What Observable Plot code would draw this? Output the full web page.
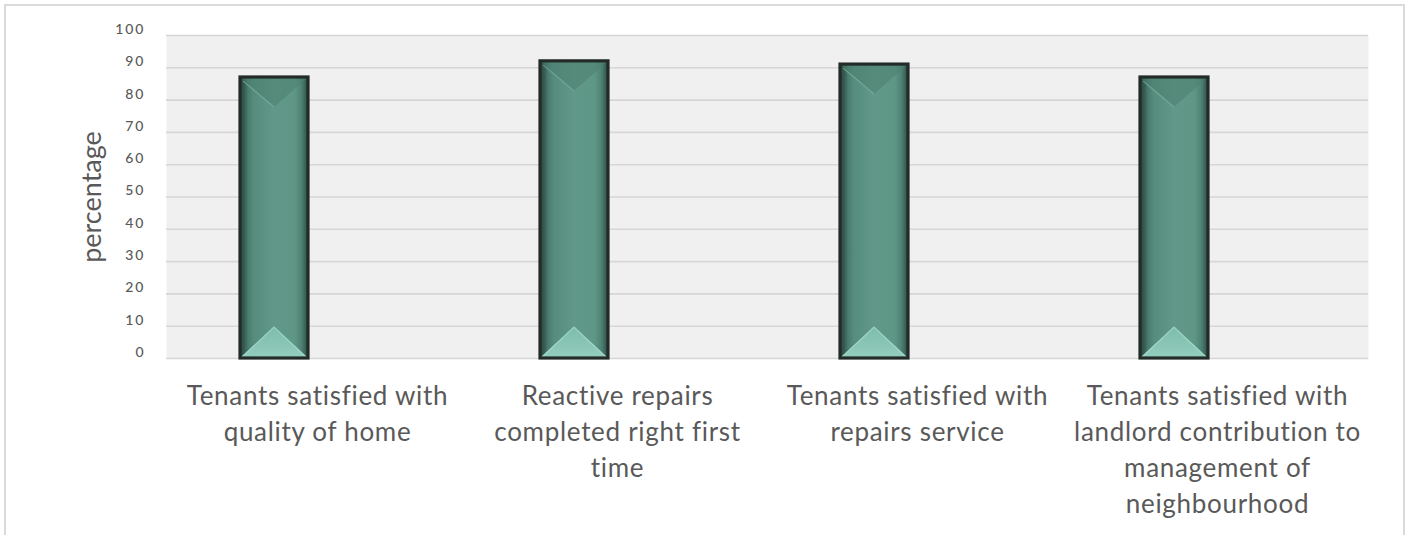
<!DOCTYPE html>
<html>
<head>
<meta charset="utf-8">
<script src="https://cdn.jsdelivr.net/npm/d3@7"></script>
<script src="https://cdn.jsdelivr.net/npm/@observablehq/plot@0.6"></script>
<style>
  html, body { margin: 0; padding: 0; background: #fff; overflow: hidden; }
  #wrap { position: relative; width: 1408px; height: 535px; }
  #border { position: absolute; left: 4px; top: 4px; width: 1397px; height: 600px;
            border: 2px solid #dadada; pointer-events: none; }
  svg { font-family: Lato, "Open Sans", sans-serif; }
  svg g[aria-label="x-axis tick label"] { letter-spacing: 0.7px; }
  svg g[aria-label="y-axis tick label"] { letter-spacing: 2px; }
</style>
</head>
<body>
<div id="wrap"><div id="border"></div></div>
<script>
const categories = [
  "Tenants satisfied with\nquality of home",
  "Reactive repairs\ncompleted right first\ntime",
  "Tenants satisfied with\nrepairs service",
  "Tenants satisfied with\nlandlord contribution to\nmanagement of\nneighbourhood"
];
const values = [87, 92, 91, 87];
const yTicks = [0, 10, 20, 30, 40, 50, 60, 70, 80, 90, 100];
const yLabel = "percentage";

const data = categories.map((c, i) => ({category: c, value: values[i]}));

const chart = Plot.plot({
  width: 1408,
  height: 535,
  marginLeft: 166,
  marginRight: 40,
  marginTop: 35,
  marginBottom: 177,
  style: {background: "transparent", color: "#595959"},
  x: {domain: categories, padding: 0, label: null},
  y: {domain: [0, 100], label: null},
  marks: [
    Plot.frame({fill: "#f0f0f0", stroke: "none"}),
    Plot.gridY(yTicks, {stroke: "#d6d6d6", strokeOpacity: 1, strokeWidth: 1.6}),
    Plot.axisY(yTicks, {tickSize: 0, tickPadding: 21, fontSize: 14, fill: "#595959", dy: -6, label: null, fontWeight: 500}),
    Plot.axisX({tickSize: 0, tickPadding: 21, fontSize: 26, fill: "#595959", lineHeight: 1.38, label: null}),
    Plot.text([yLabel], {frameAnchor: "left", textAnchor: "middle", rotate: -90, dx: -74, fontSize: 27, fill: "#595959"}),
    Plot.barY(data, {x: "category", y: "value", insetLeft: 73, insetRight: 159, fill: "url(#barGrad)"}),
    Plot.barY(data, {x: "category", y: "value", insetLeft: 73, insetRight: 159, fill: "none", stroke: "#222b28", strokeWidth: 3.2})
  ]
});

document.getElementById("wrap").prepend(chart);

const svg = d3.select(chart);
const defs = svg.insert("defs", ":first-child");
const g = defs.append("linearGradient").attr("id", "barGrad").attr("x1", "0").attr("x2", "1").attr("y1", "0").attr("y2", "0");
[
  [0, "#2c4a43"], [0.06, "#36594f"], [0.12, "#4a7c6f"], [0.2, "#568c7d"],
  [0.5, "#619889"], [0.8, "#5f9787"], [0.9, "#4f8274"], [0.96, "#3b6358"], [1, "#2c4a43"]
].forEach(([o, c]) => g.append("stop").attr("offset", o).attr("stop-color", c));
const g2 = defs.append("linearGradient").attr("id", "botGrad").attr("x1", "0").attr("x2", "0").attr("y1", "0").attr("y2", "1");
[[0, "#7dbcaa"], [1, "#93cdbf"]].forEach(([o, c]) => g2.append("stop").attr("offset", o).attr("stop-color", c));

const barGroups = svg.selectAll('g[aria-label="bar"]').nodes();
const fillGroup = barGroups[0], strokeGroup = barGroups[1];
const bevel = document.createElementNS("http://www.w3.org/2000/svg", "g");
strokeGroup.parentNode.insertBefore(bevel, strokeGroup);
d3.select(fillGroup).selectAll("rect").each(function() {
  const r = d3.select(this);
  const x = +r.attr("x"), y = +r.attr("y"), w = +r.attr("width"), h = +r.attr("height");
  const b = d3.select(bevel);
  b.append("polygon")
    .attr("points", `${x},${y} ${x + w},${y} ${x + w / 2},${y + 30}`)
    .attr("fill", "#4c7f71").attr("opacity", 0.55);
  b.append("polyline")
    .attr("points", `${x + 3},${y + 4} ${x + w / 2},${y + 30}`)
    .attr("fill", "none").attr("stroke", "#79b0a1").attr("stroke-width", 1.2).attr("opacity", 0.7);
  b.append("polygon")
    .attr("points", `${x},${y + h} ${x + w},${y + h} ${x + w / 2},${y + h - 31}`)
    .attr("fill", "url(#botGrad)");
  b.append("polyline")
    .attr("points", `${x + 2},${y + h - 1} ${x + w / 2},${y + h - 31} ${x + w - 2},${y + h - 1}`)
    .attr("fill", "none").attr("stroke", "#a6dccd").attr("stroke-width", 1.2).attr("opacity", 0.8);
});
</script>
</body>
</html>
